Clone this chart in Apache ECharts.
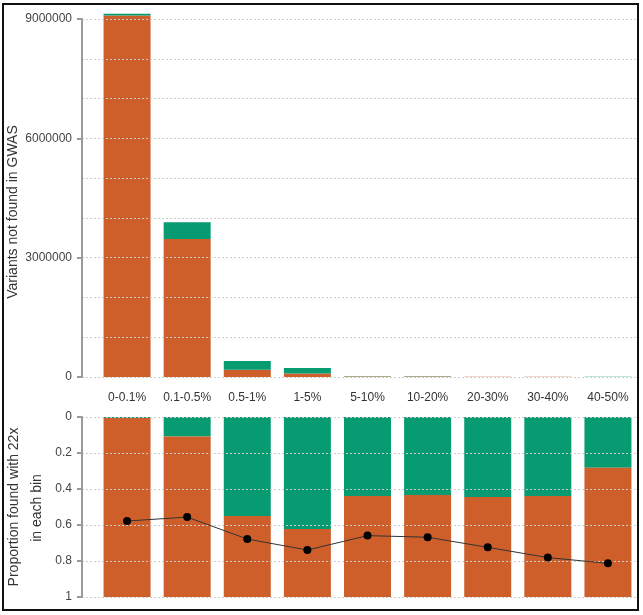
<!DOCTYPE html>
<html>
<head>
<meta charset="utf-8">
<script src="https://cdn.jsdelivr.net/npm/echarts@6/dist/echarts.min.js"></script>
<style>html,body{margin:0;padding:0;background:#fff;}#chart{width:643px;height:615px;}</style>
</head>
<body>
<div id="chart"></div>
<script>
const categories = ['0-0.1%', '0.1-0.5%', '0.5-1%', '1-5%', '5-10%', '10-20%', '20-30%', '30-40%', '40-50%'];
// Top panel: variants not found in GWAS (stacked counts)
const notFound22x = [9090000, 3470000, 180000, 86000, 11000, 10000, 5000, 3800, 3000];
const found22x = [45000, 420000, 220000, 140000, 9000, 8000, 4000, 3000, 1200];
// Bottom panel: proportion found with 22x in each bin
const propFound = [0.005, 0.109, 0.55, 0.622, 0.439, 0.433, 0.444, 0.439, 0.282];
const propNotFound = [0.995, 0.891, 0.45, 0.378, 0.561, 0.567, 0.556, 0.561, 0.718];
// Line points on bottom panel
const linePoints = [0.578, 0.556, 0.678, 0.739, 0.659, 0.668, 0.724, 0.781, 0.813];
const topTicks = [0, 3000000, 6000000, 9000000];
const topTitle = 'Variants not found in GWAS';
const bottomTitle = ['Proportion found with 22x', 'in each bin'];

const ORANGE = '#CF5F2A';
const GREEN = '#079B72';
const FONT = 'Liberation Sans, Arial, sans-serif';
const dashed = { color: '#cccccc', type: [2, 2], width: 1 };
const axisLineStyle = () => ({ show: true, onZero: false, lineStyle: { color: '#9a9a9a', width: 2, opacity: 1 } });
const axisTickStyle = () => ({ show: true, inside: false, length: 5, lineStyle: { color: '#9a9a9a', width: 2, opacity: 1 } });

const chart = echarts.init(document.getElementById('chart'), null, { renderer: 'canvas' });
chart.setOption({
  animation: false,
  backgroundColor: '#fff',
  textStyle: { fontFamily: FONT },
  graphic: [
    { type: 'rect', shape: { x: 3, y: 4, width: 635, height: 606 },
      style: { fill: 'none', stroke: '#111', lineWidth: 2 }, z: 100 },
    { type: 'text', x: 13, y: 212, rotation: Math.PI / 2,
      style: { text: topTitle, fill: '#333', font: '14px ' + FONT, align: 'center', verticalAlign: 'middle' } },
    { type: 'text', x: 14, y: 507, rotation: Math.PI / 2,
      style: { text: bottomTitle[0], fill: '#333', font: '14px ' + FONT, align: 'center', verticalAlign: 'middle' } },
    { type: 'text', x: 37, y: 508, rotation: Math.PI / 2,
      style: { text: bottomTitle[1], fill: '#333', font: '14px ' + FONT, align: 'center', verticalAlign: 'middle' } }
  ],
  grid: [
    { left: 97, top: 19, width: 541, height: 358, outerBoundsMode: 'none', containLabel: false },
    { left: 97, top: 417, width: 541, height: 180, outerBoundsMode: 'none', containLabel: false },
    { left: 82, top: 19, width: 556, height: 358, outerBoundsMode: 'none', containLabel: false },
    { left: 82, top: 417, width: 556, height: 180, outerBoundsMode: 'none', containLabel: false }
  ],
  xAxis: [
    { type: 'category', gridIndex: 0, data: categories,
      axisLine: { show: false }, axisTick: { show: false },
      axisLabel: { color: '#333', fontSize: 12, margin: 15, fontFamily: FONT, interval: 0 } },
    { type: 'category', gridIndex: 1, data: categories,
      axisLine: { show: false }, axisTick: { show: false }, axisLabel: { show: false } },
    { type: 'value', gridIndex: 2, min: 0, max: 1, show: false },
    { type: 'value', gridIndex: 3, min: 0, max: 1, show: false }
  ],
  yAxis: [
    { type: 'value', gridIndex: 0, min: 0, max: topTicks[3], interval: topTicks[1], show: false },
    { type: 'value', gridIndex: 1, min: 0, max: 1, interval: 0.2, inverse: true, show: false },
    { type: 'value', gridIndex: 2, min: 0, max: topTicks[3], interval: topTicks[1], position: 'left', z: 5,
      axisLine: axisLineStyle(),
      axisTick: axisTickStyle(),
      axisLabel: { color: '#444', fontSize: 12, margin: 10, fontFamily: FONT, formatter: v => String(v) },
      splitLine: { show: true, lineStyle: dashed },
      minorTick: { show: false, splitNumber: 3 },
      minorSplitLine: { show: true, lineStyle: dashed } },
    { type: 'value', gridIndex: 3, min: 0, max: 1, interval: 0.2, inverse: true, position: 'left', z: 5,
      axisLine: axisLineStyle(),
      axisTick: axisTickStyle(),
      axisLabel: { color: '#444', fontSize: 12, margin: 10, fontFamily: FONT },
      splitLine: { show: true, lineStyle: dashed } }
  ],
  series: [
    { type: 'bar', name: 'not found 22x', xAxisIndex: 0, yAxisIndex: 0, stack: 'top', data: notFound22x,
      barWidth: 47, clip: false, itemStyle: { color: ORANGE } },
    { type: 'bar', name: 'found 22x', xAxisIndex: 0, yAxisIndex: 0, stack: 'top', data: found22x,
      barWidth: 47, clip: false, itemStyle: { color: GREEN } },
    { type: 'bar', name: 'prop found', xAxisIndex: 1, yAxisIndex: 1, stack: 'bot', data: propFound,
      barWidth: 47, itemStyle: { color: GREEN } },
    { type: 'bar', name: 'prop not found', xAxisIndex: 1, yAxisIndex: 1, stack: 'bot', data: propNotFound,
      barWidth: 47, itemStyle: { color: ORANGE } },
    { type: 'line', name: 'points', xAxisIndex: 1, yAxisIndex: 1, data: linePoints,
      symbol: 'circle', symbolSize: 8, z: 10,
      itemStyle: { color: '#000' }, lineStyle: { color: '#333', width: 1 } }
  ]
});
</script>
</body>
</html>
